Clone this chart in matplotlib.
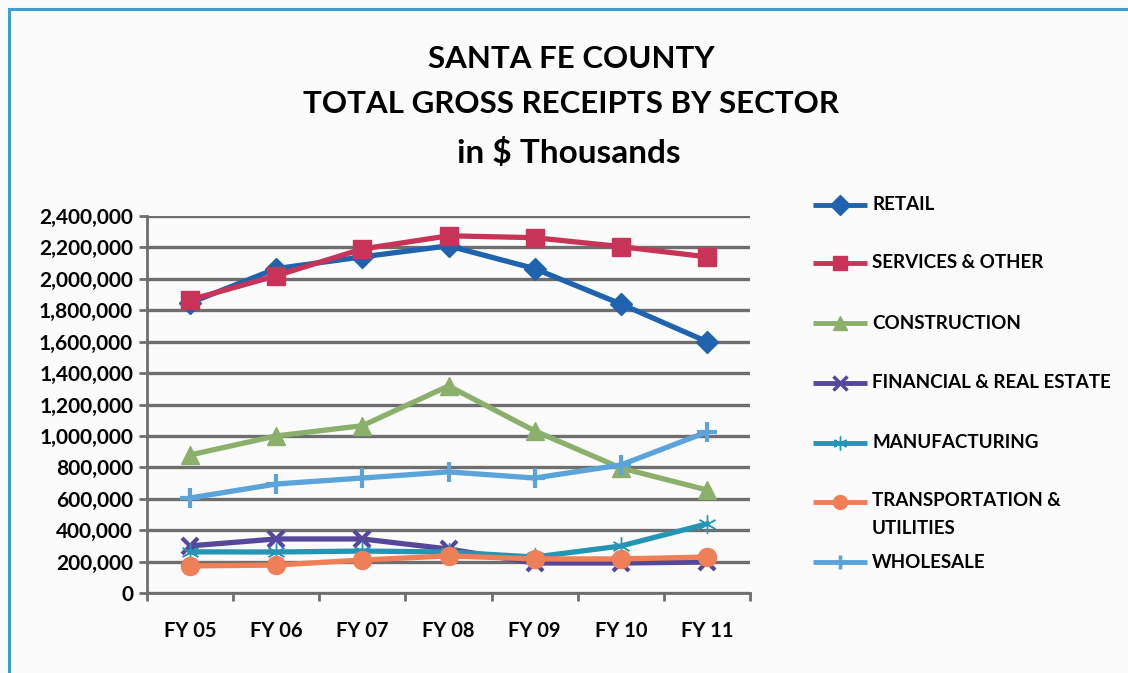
import matplotlib
matplotlib.use("Agg")
import matplotlib.pyplot as plt
from matplotlib.patches import Rectangle
from matplotlib.lines import Line2D
from matplotlib.ticker import FuncFormatter

categories = ["FY 05", "FY 06", "FY 07", "FY 08", "FY 09", "FY 10", "FY 11"]
retail = [1847000, 2065000, 2140000, 2210000, 2065000, 1840000, 1600000]
services = [1866000, 2020000, 2190000, 2274000, 2262000, 2205000, 2140000]
construction = [879000, 1000000, 1065000, 1318000, 1032000, 796000, 656000]
financial = [300000, 344000, 344000, 280000, 191000, 191000, 197000]
manufacturing = [262000, 261000, 267000, 261000, 229000, 299000, 440000]
transportation = [172000, 178000, 210000, 236000, 217000, 217000, 229000]
wholesale = [605000, 694000, 732000, 771000, 732000, 815000, 1025000]
labels = ["RETAIL", "SERVICES & OTHER", "CONSTRUCTION", "FINANCIAL & REAL ESTATE",
          "MANUFACTURING", "TRANSPORTATION &\nUTILITIES", "WHOLESALE"]

values = [retail, services, construction, financial, manufacturing,
          transportation, wholesale]
colors = ["#1f62ad", "#c83358", "#8bb06c", "#56479a", "#2595b5", "#ee7f57", "#5aa4da"]
markers = ["D", "s", "^", "x", (6, 2, 0), "o", "+"]
msizes = [11, 13, 13, 12, 13, 13, 14]

plt.rcParams['font.family'] = ['Lato', 'DejaVu Sans']

W, H = 1128, 673
fig = plt.figure(figsize=(W / 100, H / 100), dpi=100)
fig.patch.set_facecolor("#fbfbfb")

def fx(px):
    return px / W

def fy(py):
    return 1 - py / H

# outer frame
fig.patches.append(Rectangle((fx(9), -0.01), 1.2, fy(9) + 0.01,
                             transform=fig.transFigure, fill=False,
                             edgecolor="#3d9fd0", linewidth=2.2))

ax = fig.add_axes([fx(147), fy(593), fx(750 - 147), (593 - 216) / H])
ax.set_facecolor("none")

x = list(range(len(categories)))
for name, vals, color, marker, ms in zip(labels, values, colors, markers, msizes):
    mew = 3 if marker in ("x", "+") else 1
    ax.plot(x, vals, color=color, linewidth=3.8, marker=marker,
            markersize=ms, markeredgewidth=mew, markeredgecolor=color,
            markerfacecolor=color, label=name, zorder=3)

ax.set_xlim(-0.5, len(categories) - 0.5)
ax.set_ylim(0, 2400000)
ax.set_yticks(range(0, 2400001, 200000))
ax.yaxis.set_major_formatter(FuncFormatter(lambda v, p: f"{int(v):,}"))
ax.grid(axis="y", color="#6e6e6e", linewidth=2.4, zorder=1)
ax.set_axisbelow(True)

ax.set_xticks(x)
ax.set_xticklabels(categories)
ax.set_xticks([i + 0.5 for i in range(-1, len(categories))], minor=True)
ax.tick_params(axis="x", which="major", length=0, pad=20, labelsize=14.5)
ax.tick_params(axis="x", which="minor", length=6, width=2, color="#6e6e6e")
ax.tick_params(axis="y", length=6, width=2, color="#6e6e6e", labelsize=15, pad=4)
for lab in ax.get_xticklabels() + ax.get_yticklabels():
    lab.set_fontweight("bold")

for s in ["top", "right"]:
    ax.spines[s].set_visible(False)
for s in ["left", "bottom"]:
    ax.spines[s].set_color("#6e6e6e")
    ax.spines[s].set_linewidth(2)

fig.text(fx(571), fy(59), "SANTA FE COUNTY", ha="center", va="center",
         fontsize=22.5, fontweight="bold")
fig.text(fx(571), fy(104), "TOTAL GROSS RECEIPTS BY SECTOR", ha="center",
         va="center", fontsize=22.5, fontweight="bold")
fig.text(fx(569), fy(153), "in $ Thousands", ha="center", va="center",
         fontsize=24, fontweight="bold")

# legend drawn at figure pixel positions
leg_rows = [205, 263, 323, 383, 443, 502, 562]
for name, color, marker, ry in zip(labels, colors, markers, leg_rows):
    mew = 2.5 if marker in ("x", "+") else 1
    fig.add_artist(Line2D([fx(813), fx(867)], [fy(ry), fy(ry)],
                          transform=fig.transFigure, color=color, linewidth=3.5,
                          solid_capstyle="butt"))
    fig.add_artist(Line2D([fx(840)], [fy(ry)], transform=fig.transFigure,
                          color=color, marker=marker, markersize=10,
                          markeredgewidth=mew, markeredgecolor=color,
                          markerfacecolor=color, linestyle="none"))
    if "\n" in name:
        fig.text(fx(872), fy(ry - 10), name, ha="left", va="top",
                 fontsize=13.5, fontweight="bold", linespacing=1.75)
    else:
        fig.text(fx(872), fy(ry), name, ha="left", va="center",
                 fontsize=13.5, fontweight="bold")

fig.savefig("out.png", dpi=100, facecolor=fig.get_facecolor())
